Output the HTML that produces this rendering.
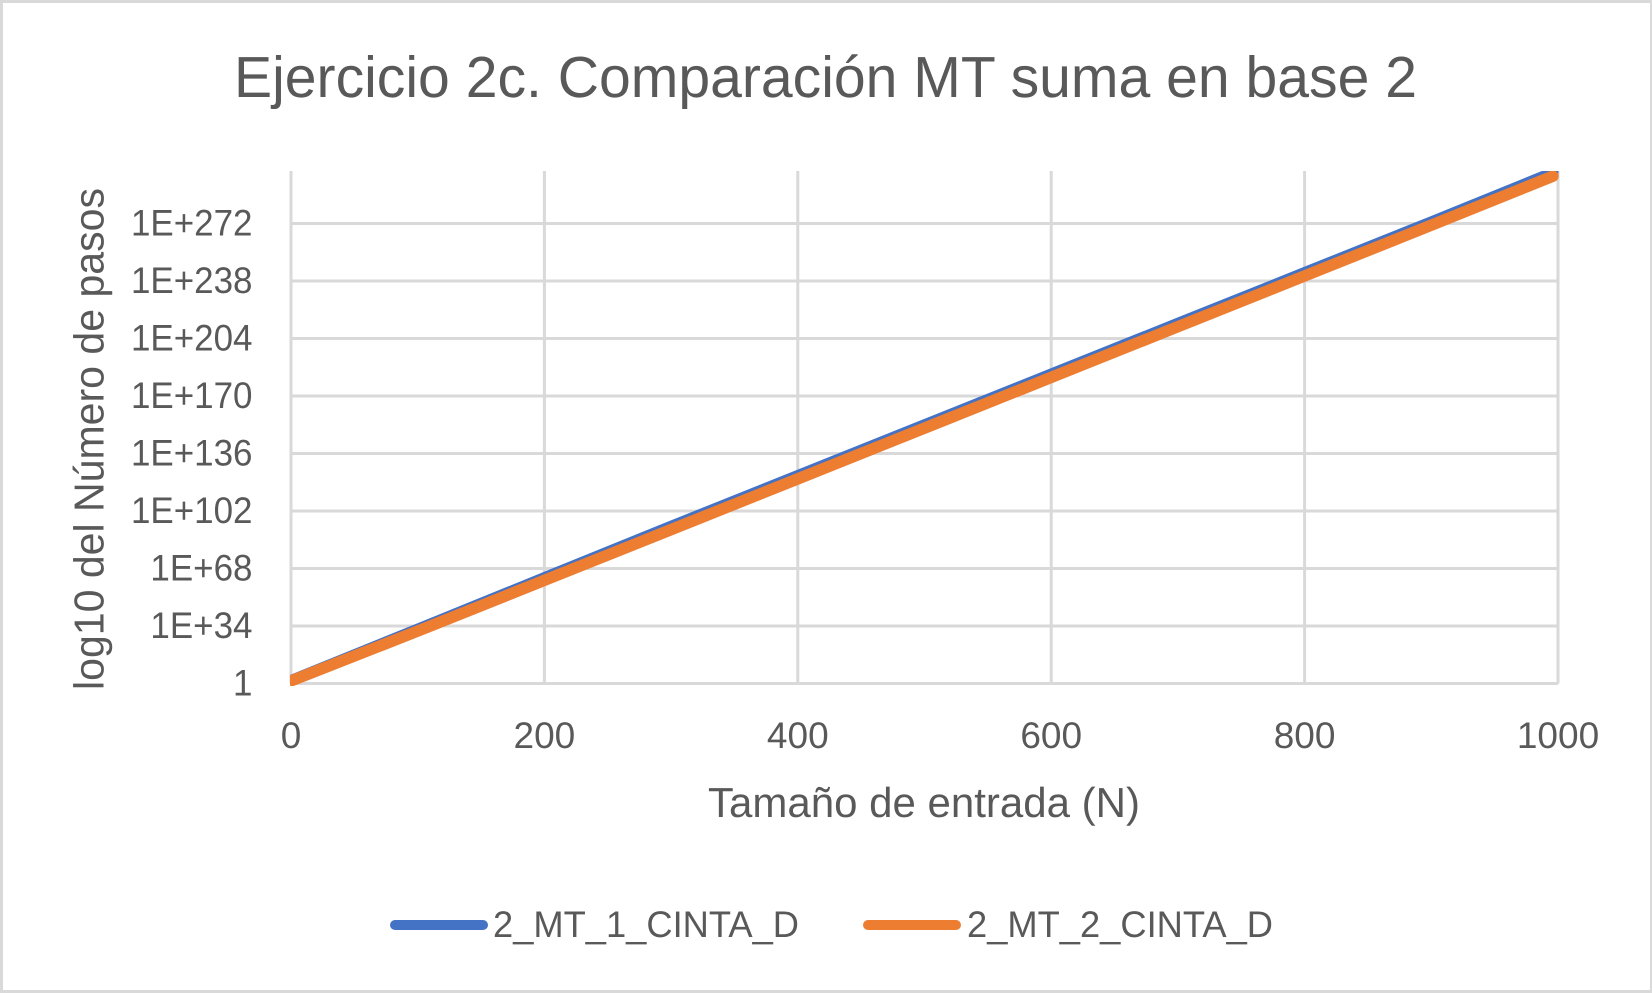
<!DOCTYPE html>
<html lang="es">
<head>
<meta charset="utf-8">
<title>Ejercicio 2c. Comparación MT suma en base 2</title>
<style>
html,body{margin:0;padding:0;background:#fff;width:1652px;height:993px;overflow:hidden}
svg{display:block}
text{font-family:"Liberation Sans",sans-serif;fill:#595959;text-rendering:geometricPrecision}
</style>
</head>
<body>
<svg id="chart" xmlns="http://www.w3.org/2000/svg" width="1652" height="993" viewBox="0 0 1652 993">
  <defs>
    <clipPath id="plot-clip"><rect x="290" y="171" width="1269" height="515"></rect></clipPath>
  </defs>
  <rect x="1.5" y="1.5" width="1650" height="990" fill="#fff" stroke="#d9d9d9" stroke-width="3"></rect>
  <text x="234" y="97" font-size="58" textLength="1183" lengthAdjust="spacingAndGlyphs">Ejercicio 2c. Comparación MT suma en base 2</text>
  <g id="grid"></g>
  <g id="series" clip-path="url(#plot-clip)"></g>
  <g id="y-ticks"></g>
  <g id="x-ticks"></g>
  <text x="708" y="817" font-size="42" textLength="432" lengthAdjust="spacingAndGlyphs">Tamaño de entrada (N)</text>
  <text transform="translate(103.5 690) rotate(-90)" x="0" y="0" font-size="42" textLength="502" lengthAdjust="spacingAndGlyphs">log10 del Número de pasos</text>
  <g>
    <line x1="395" y1="925" x2="483" y2="925" stroke="#4472c4" stroke-width="10" stroke-linecap="round"></line>
    <text x="493" y="937" font-size="37" textLength="306" lengthAdjust="spacingAndGlyphs">2_MT_1_CINTA_D</text>
    <line x1="868" y1="925" x2="956" y2="925" stroke="#ed7d31" stroke-width="10" stroke-linecap="round"></line>
    <text x="967" y="937" font-size="37" textLength="306" lengthAdjust="spacingAndGlyphs">2_MT_2_CINTA_D</text>
  </g>
</svg>
<script>
const inputSizes = [1, 100, 200, 300, 400, 500, 600, 700, 800, 900, 996];
const stepsExponentOneTape = [2.1, 32.2, 62.6, 93, 123, 153, 183, 213, 243, 273, 302.2];
const stepsExponentTwoTapes = [1.8, 31, 61, 91, 121, 151, 181, 211, 241, 271, 300];
const xTickValues = [0, 200, 400, 600, 800, 1000];
const yTickExponents = [0, 34, 68, 102, 136, 170, 204, 238, 272];
const yTickLabels = ['1', '1E+34', '1E+68', '1E+102', '1E+136', '1E+170', '1E+204', '1E+238', '1E+272'];

const NS = 'http://www.w3.org/2000/svg';
const plotLeft = 291, plotRight = 1558, plotTop = 171, plotBottom = 683.5;
const xMax = 1000, decadesPerTick = 34, pxPerTick = 57.5;
const xScale = n => plotLeft + (n / xMax) * (plotRight - plotLeft);
const yScale = e => plotBottom - (e / decadesPerTick) * pxPerTick;

const grid = document.getElementById('grid');
const seriesGroup = document.getElementById('series');
const yTicksGroup = document.getElementById('y-ticks');
const xTicksGroup = document.getElementById('x-ticks');

function gridLine(x1, y1, x2, y2) {
  const l = document.createElementNS(NS, 'line');
  l.setAttribute('x1', x1);
  l.setAttribute('y1', y1);
  l.setAttribute('x2', x2);
  l.setAttribute('y2', y2);
  l.setAttribute('stroke', '#d9d9d9');
  l.setAttribute('stroke-width', '3');
  return l;
}

yTickExponents.forEach(function (e, i) {
  const l = gridLine(plotLeft, yScale(e), plotRight, yScale(e));
  
  
  grid.appendChild(l);

  const t = document.createElementNS(NS, 'text');
  
  
  t.setAttribute('x', 252.5);
  t.setAttribute('y', yScale(e) + 12);
  t.setAttribute('font-size', '37');
  t.setAttribute('text-anchor', 'end');
  t.textContent = yTickLabels[i];
  yTicksGroup.appendChild(t);
  const natural = t.getComputedTextLength();
  t.setAttribute('textLength', natural * 0.945);
  t.setAttribute('lengthAdjust', 'spacingAndGlyphs');
});

xTickValues.forEach(function (v) {
  const l = gridLine(xScale(v), plotTop, xScale(v), plotBottom);
  
  
  grid.appendChild(l);

  const t = document.createElementNS(NS, 'text');
  
  
  t.setAttribute('x', xScale(v));
  t.setAttribute('y', 748);
  t.setAttribute('font-size', '37');
  t.setAttribute('text-anchor', 'middle');
  t.textContent = String(v);
  xTicksGroup.appendChild(t);
});

function pathFor(values) {
  return values.map(function (e, i) {
    return (i ? 'L' : 'M') + xScale(inputSizes[i]).toFixed(2) + ' ' + yScale(e).toFixed(2);
  }).join(' ');
}

const lineOne = document.createElementNS(NS, 'path');


lineOne.setAttribute('d', pathFor(stepsExponentOneTape));
lineOne.setAttribute('fill', 'none');
lineOne.setAttribute('stroke', '#4472c4');
lineOne.setAttribute('stroke-width', '11');
lineOne.setAttribute('stroke-linecap', 'round');
lineOne.setAttribute('stroke-linejoin', 'round');
seriesGroup.appendChild(lineOne);

const lineTwo = document.createElementNS(NS, 'path');


lineTwo.setAttribute('d', pathFor(stepsExponentTwoTapes));
lineTwo.setAttribute('fill', 'none');
lineTwo.setAttribute('stroke', '#ed7d31');
lineTwo.setAttribute('stroke-width', '11.5');
lineTwo.setAttribute('stroke-linecap', 'round');
lineTwo.setAttribute('stroke-linejoin', 'round');
seriesGroup.appendChild(lineTwo);
</script>
</body>
</html>
